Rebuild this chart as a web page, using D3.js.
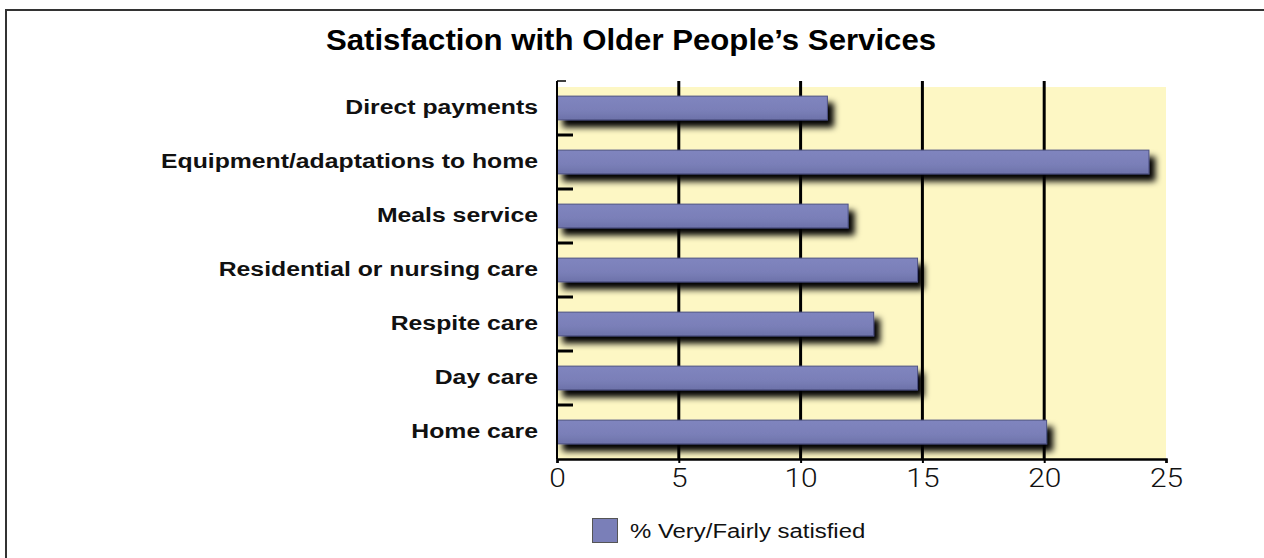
<!DOCTYPE html>
<html>
<head>
<meta charset="utf-8">
<script src="https://cdn.jsdelivr.net/npm/d3@7"></script>
<style>
  html, body { margin: 0; padding: 0; background: #fff; }
  svg { display: block; }
</style>
</head>
<body>
<svg id="chart" width="1264" height="558"></svg>
<script>
const title = "Satisfaction with Older People\u2019s Services";
const categories = [
  "Direct payments",
  "Equipment/adaptations to home",
  "Meals service",
  "Residential or nursing care",
  "Respite care",
  "Day care",
  "Home care"
];
const values = [11.1, 24.3, 11.95, 14.8, 13.0, 14.8, 20.1];
const xTicks = [0, 5, 10, 15, 20, 25];
const gridTicks = [5, 10, 15, 20];
const seriesName = "% Very/Fairly satisfied";

const W = 1264, H = 558;
const plot = { left: 557, right: 1166, top: 81, bottom: 459, bgTop: 87 };
const barColor = "#7a7fb8";
const bgColor = "#fdf7c4";

const svg = d3.select("#chart");

const defs = svg.append("defs");
const f = defs.append("filter").attr("id", "shadow")
  .attr("x", "-5%").attr("y", "-50%").attr("width", "120%").attr("height", "250%");
f.append("feDropShadow").attr("dx", 6).attr("dy", 7).attr("stdDeviation", 3)
  .attr("flood-color", "#000").attr("flood-opacity", 1);

const grad = defs.append("linearGradient").attr("id", "barGrad")
  .attr("x1", 0).attr("y1", 0).attr("x2", 0).attr("y2", 1);
grad.append("stop").attr("offset", "0%").attr("stop-color", "#8085bf");
grad.append("stop").attr("offset", "60%").attr("stop-color", "#7a7fb8");
grad.append("stop").attr("offset", "100%").attr("stop-color", "#6d72a9");

// outer frame
svg.append("rect").attr("x", 6).attr("y", 10).attr("width", W + 20).attr("height", H + 20)
  .attr("fill", "none").attr("stroke", "#333").attr("stroke-width", 2);

const x = d3.scaleLinear().domain([0, 25]).range([plot.left, plot.right]);
const y = d3.scaleBand().domain(categories).range([plot.top, plot.bottom])
  .paddingInner(0.56).paddingOuter(0.28);

// plot background
svg.append("rect")
  .attr("x", x(0)).attr("y", plot.bgTop)
  .attr("width", x(25) - x(0)).attr("height", plot.bottom - plot.bgTop)
  .attr("fill", bgColor);

// gridlines
svg.append("g").selectAll("line").data(gridTicks).join("line")
  .attr("x1", d => x(d)).attr("x2", d => x(d))
  .attr("y1", plot.top).attr("y2", plot.bottom)
  .attr("stroke", "#000").attr("stroke-width", 3);

// bars
svg.append("g").selectAll("rect").data(values).join("rect")
  .attr("x", x(0))
  .attr("y", (d, i) => y(categories[i]))
  .attr("width", d => x(d) - x(0))
  .attr("height", y.bandwidth())
  .attr("fill", "url(#barGrad)")
  .attr("stroke", "#4d5183").attr("stroke-width", 1)
  .attr("filter", "url(#shadow)");

// left axis
svg.append("line").attr("x1", x(0)).attr("x2", x(0))
  .attr("y1", plot.top).attr("y2", plot.bottom)
  .attr("stroke", "#000").attr("stroke-width", 2);
svg.append("line").attr("x1", x(0)).attr("x2", x(0) + 9)
  .attr("y1", plot.top).attr("y2", plot.top)
  .attr("stroke", "#000").attr("stroke-width", 1.5);
const boundaries = categories.slice(1).map(c => y(c) - y.step() * y.paddingInner() / 2);
svg.append("g").selectAll("line").data(boundaries).join("line")
  .attr("x1", x(0)).attr("x2", x(0) + 16)
  .attr("y1", d => d).attr("y2", d => d)
  .attr("stroke", "#000").attr("stroke-width", 3);

// bottom axis
const xAxis = d3.axisBottom(x).tickValues(xTicks).tickSize(4).tickFormat(d3.format("d"));
const gx = svg.append("g").attr("transform", `translate(0,${plot.bottom})`).call(xAxis);
gx.select(".domain").attr("stroke", "#000").attr("stroke-width", 2.5);
gx.selectAll(".tick line").attr("stroke", "#000").attr("stroke-width", 2);
gx.selectAll(".tick text")
  .attr("y", 0).attr("dy", null)
  .attr("transform", "translate(0,28) scale(1.15,1)")
  .attr("font-family", "Roboto, 'Liberation Sans', sans-serif")
  .attr("font-weight", 300)
  .attr("font-size", 26)
  .attr("fill", "#111");

// category labels
svg.append("g").selectAll("text").data(categories).join("text")
  .attr("transform", d => `translate(538,${y(d) + y.bandwidth() / 2 + 6}) scale(1.18,1)`)
  .attr("text-anchor", "end")
  .attr("font-family", "'Liberation Sans', Arial, sans-serif")
  .attr("font-weight", "bold")
  .attr("font-size", 21)
  .attr("fill", "#111")
  .text(d => d);

// title
svg.append("text")
  .attr("transform", "translate(631,50) scale(1.075,1)")
  .attr("text-anchor", "middle")
  .attr("font-family", "'Liberation Sans', Arial, sans-serif")
  .attr("font-weight", "bold")
  .attr("font-size", 29)
  .attr("fill", "#000")
  .text(title);

// legend
svg.append("rect").attr("x", 592.5).attr("y", 518.5).attr("width", 25).attr("height", 24)
  .attr("fill", barColor).attr("stroke", "#555").attr("stroke-width", 1);
svg.append("text")
  .attr("transform", "translate(630,538) scale(1.14,1)")
  .attr("font-family", "'Liberation Sans', Arial, sans-serif")
  .attr("font-size", 21)
  .attr("fill", "#111")
  .text(seriesName);
</script>
</body>
</html>
